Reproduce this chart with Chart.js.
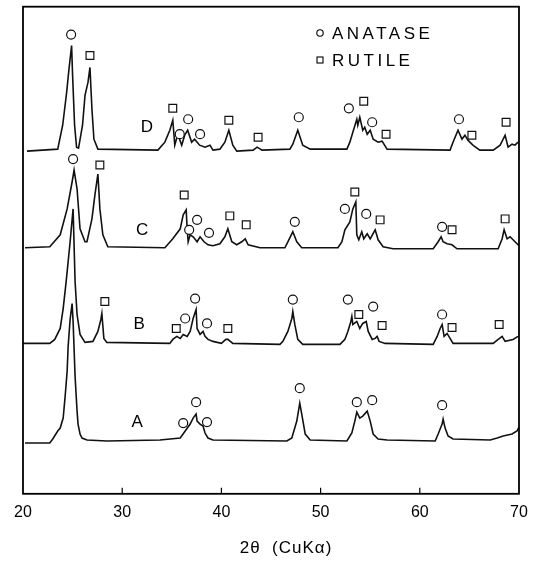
<!DOCTYPE html>
<html>
<head>
<meta charset="utf-8">
<script src="https://cdn.jsdelivr.net/npm/chart.js@4.4.1/dist/chart.umd.min.js"></script>
<style>
  html, body { margin: 0; padding: 0; background: #fff; }
  #wrap { width: 537px; height: 564px; }
</style>
</head>
<body>
<div id="wrap"><canvas id="xrd"></canvas></div>
<script>
// XRD patterns, stacked (2theta deg, offset intensity in arbitrary units)
const sampleNames = ["A", "B", "C", "D"];
const xTicks = [20, 30, 40, 50, 60, 70];
const xTitle = "2θ  (CuKα)";

const curveD = [
    [20.4, 344], [23.5, 346], [24.0, 370], [24.4, 403], [24.6, 423], [24.9, 450], [25.0, 420],
    [25.2, 370], [25.4, 348], [25.6, 347], [26.0, 370], [26.25, 400], [26.55, 413], [26.75, 428],
    [26.95, 386], [27.15, 356], [27.55, 346], [33.6, 345], [34.3, 353], [34.8, 365], [35.1, 375],
    [35.3, 350], [35.6, 361], [36.0, 350], [36.3, 360], [36.6, 365], [37.0, 353], [37.3, 356],
    [37.8, 350], [38.35, 348], [38.85, 350], [39.15, 345], [39.85, 346], [40.35, 353], [40.75, 365],
    [41.15, 350], [41.55, 344], [43.2, 345], [43.6, 348], [44.1, 345], [46.9, 346], [47.2, 351],
    [47.7, 365], [48.2, 350], [48.95, 346], [52.65, 346], [52.95, 353], [53.25, 363], [53.65, 376],
    [53.75, 370], [53.95, 378], [54.25, 365], [54.45, 368], [54.7, 361], [55.0, 365], [55.3, 356],
    [55.8, 353], [56.2, 354], [56.7, 346], [63.05, 345], [63.35, 353], [63.85, 365], [64.25, 356],
    [64.55, 360], [64.85, 355], [65.35, 350], [66.05, 345], [67.4, 345], [68.1, 350], [68.6, 360],
    [68.9, 348], [69.3, 351], [69.6, 350], [69.9, 353]
];
const curveC = [
    [20.2, 247], [22.7, 248], [23.75, 260], [24.45, 286], [24.95, 313], [25.15, 325], [25.45, 306],
    [25.75, 266], [26.25, 253], [26.45, 253], [26.95, 276], [27.25, 300], [27.55, 321], [27.75, 286],
    [28.05, 260], [28.55, 248], [34.3, 247], [35.1, 256], [35.85, 266], [36.15, 280], [36.45, 285],
    [36.55, 266], [36.65, 253], [36.85, 260], [37.15, 258], [37.55, 253], [37.85, 258], [38.25, 253],
    [38.65, 250], [39.15, 249], [39.85, 251], [40.35, 258], [40.65, 266], [41.05, 253], [41.55, 250],
    [42.05, 253], [42.4, 256], [42.7, 250], [43.9, 247], [46.4, 247], [46.7, 253], [47.2, 263],
    [47.6, 253], [48.1, 247], [51.75, 247], [52.15, 253], [52.45, 265], [52.95, 273], [53.25, 286],
    [53.55, 293], [53.65, 260], [53.85, 255], [54.15, 263], [54.35, 256], [54.7, 261], [55.0, 256],
    [55.5, 265], [55.8, 255], [56.3, 248], [57.3, 246], [61.35, 246], [61.85, 253], [62.15, 258],
    [62.35, 253], [62.75, 251], [63.25, 250], [63.75, 246], [67.9, 246], [68.3, 256], [68.5, 265],
    [68.8, 256], [69.1, 258], [69.4, 255], [69.8, 251], [70.0, 249]
];
const curveB = [
    [20.0, 151], [22.7, 151], [23.2, 155], [23.75, 166], [24.05, 186], [24.35, 213], [24.75, 253],
    [25.05, 286], [25.25, 213], [25.45, 180], [25.75, 160], [26.25, 152], [27.05, 153], [27.55, 163],
    [27.85, 175], [27.95, 181], [28.15, 156], [28.45, 152], [34.8, 151], [35.1, 155], [35.5, 158],
    [35.85, 156], [36.15, 160], [36.55, 158], [36.85, 163], [37.15, 176], [37.45, 185], [37.55, 166],
    [37.85, 160], [38.15, 163], [38.35, 158], [38.65, 155], [39.15, 153], [40.0, 151], [40.45, 155],
    [40.65, 155], [41.15, 151], [45.9, 150], [46.2, 153], [46.7, 163], [47.1, 176], [47.2, 183],
    [47.4, 170], [47.7, 155], [48.2, 150], [51.95, 150], [52.45, 155], [52.75, 163], [53.05, 173],
    [53.15, 178], [53.25, 170], [53.65, 173], [53.95, 166], [54.25, 171], [54.6, 173], [54.8, 163],
    [55.2, 155], [55.5, 156], [55.7, 158], [55.9, 153], [56.5, 151], [61.35, 150], [61.75, 158],
    [62.05, 166], [62.25, 170], [62.45, 158], [62.75, 161], [63.05, 156], [63.35, 151], [67.4, 151],
    [67.9, 155], [68.3, 158], [68.6, 153], [69.4, 155], [69.9, 158]
];
const curveA = [
    [20.2, 51], [22.7, 51], [23.0, 55], [23.5, 63], [23.75, 66], [24.05, 76], [24.25, 98],
    [24.45, 123], [24.55, 148], [24.75, 175], [24.95, 191], [25.05, 173], [25.25, 118], [25.45, 83],
    [25.55, 70], [25.75, 60], [25.95, 56], [26.45, 54], [28.45, 53], [33.8, 54], [35.85, 56],
    [36.35, 63], [36.85, 70], [37.15, 76], [37.45, 80], [37.55, 73], [37.85, 70], [38.15, 68],
    [38.35, 61], [38.65, 56], [39.15, 54], [46.6, 53], [47.1, 56], [47.6, 73], [47.9, 91],
    [48.1, 80], [48.45, 60], [48.95, 54], [52.65, 53], [53.15, 61], [53.45, 73], [53.65, 82],
    [53.95, 76], [54.25, 78], [54.7, 83], [55.0, 73], [55.3, 60], [55.8, 55], [56.7, 54],
    [61.55, 53], [61.85, 60], [62.25, 70], [62.35, 75], [62.55, 66], [62.85, 58], [63.35, 55],
    [67.1, 54], [67.8, 56], [68.4, 58], [69.3, 60], [69.8, 63], [70.0, 67]
];

// phase markers: anatase (circle) and rutile (square)
const anataseD = [[24.85, 461], [35.8, 361], [36.65, 376], [37.85, 361], [47.8, 378], [52.85, 387], [55.2, 373], [63.95, 376]];
const rutileD = [[26.75, 440], [35.1, 387], [40.75, 375], [43.7, 358], [54.35, 394], [56.6, 361], [65.25, 360], [68.7, 373]];
const anataseC = [[25.05, 336], [36.75, 265], [37.55, 275], [38.75, 262], [47.4, 273], [52.45, 286], [54.6, 281], [62.25, 268]];
const rutileC = [[27.75, 330], [36.25, 300], [40.85, 279], [42.5, 270], [53.45, 303], [56.0, 275], [63.25, 265], [68.6, 276]];
const anataseB = [[36.35, 176], [37.35, 196], [38.55, 171], [47.2, 195], [52.75, 195], [55.3, 188], [62.25, 180]];
const rutileB = [[28.25, 193], [35.45, 166], [40.65, 166], [53.85, 180], [56.2, 169], [63.25, 167], [68.0, 170]];
const anataseA = [[36.15, 71], [37.45, 92], [38.55, 72], [47.9, 106], [53.65, 92], [55.2, 94], [62.25, 89]];

const toXY = arr => arr.map(p => ({ x: p[0], y: p[1] }));

function lineSet(arr) {
    return {
        type: 'line',
        data: toXY(arr),
        borderColor: "#111",
        borderWidth: 1.6,
        pointRadius: 0,
        tension: 0,
        fill: false,
        order: 2
    };
}

// where the sample letters sit (2theta, intensity)
const letterSpots = [[31.5, 72], [31.7, 170], [32.0, 265], [32.5, 368]];

const decor = {
    id: 'decor',
    afterDatasetsDraw(chart) {
        const { ctx, chartArea: a, scales: { x, y } } = chart;
        ctx.save();
        ctx.strokeStyle = "#000";
        ctx.lineWidth = 1.8;
        ctx.strokeRect(a.left, a.top, a.right - a.left, a.bottom - a.top);
        // small inward ticks
        ctx.lineWidth = 1.2;
        ctx.beginPath();
        xTicks.slice(1, -1).forEach(v => {
            const px = x.getPixelForValue(v);
            ctx.moveTo(px, a.bottom);
            ctx.lineTo(px, a.bottom - 6);
        });
        ctx.stroke();

        ctx.fillStyle = "#000";
        ctx.font = '17px "Liberation Sans", Arial, sans-serif';
        ctx.textAlign = "center";
        ctx.textBaseline = "middle";
        sampleNames.forEach((n, i) => {
            ctx.fillText(n, x.getPixelForValue(letterSpots[i][0]), y.getPixelForValue(letterSpots[i][1]));
        });

        // axis title, sits a little right of centre in the original
        ctx.font = '17px "Liberation Sans", Arial, sans-serif';
        ctx.letterSpacing = "1px";
        ctx.fillText(xTitle, 286, 548);

        // legend box in upper right
        ctx.lineWidth = 1.1;
        ctx.beginPath();
        ctx.arc(320, 33, 3.2, 0, Math.PI * 2);
        ctx.stroke();
        ctx.strokeRect(317, 57, 6, 6);
        ctx.textAlign = "left";
        ctx.font = '17px "Liberation Sans", Arial, sans-serif';
        ctx.letterSpacing = "3.5px";
        ctx.fillText("ANATASE", 332, 34);
        ctx.fillText("RUTILE", 332, 61);
        ctx.restore();
    }
};

const markerStyle = {
    type: 'scatter',
    borderColor: "#111",
    backgroundColor: "#fff",
    borderWidth: 1.2,
    order: 0
};

new Chart(document.getElementById("xrd"), {
    data: {
        datasets: [
            Object.assign({ data: toXY([].concat(anataseA, anataseB, anataseC, anataseD)), pointStyle: 'circle', pointRadius: 4.5 }, markerStyle),
            Object.assign({ data: toXY([].concat(rutileB, rutileC, rutileD)), pointStyle: 'rect', pointRadius: 5.5 }, markerStyle),
            lineSet(curveA),
            lineSet(curveB),
            lineSet(curveC),
            lineSet(curveD)
        ]
    },
    options: {
        responsive: true,
        maintainAspectRatio: false,
        animation: false,
        layout: { padding: { left: 23, right: 18, top: 3, bottom: 33 } },
        plugins: {
            legend: { display: false },
            tooltip: { enabled: false }
        },
        scales: {
            x: {
                type: 'linear',
                min: 20,
                max: 70,
                grid: { display: false, drawTicks: false },
                border: { display: false },
                afterBuildTicks: scale => { scale.ticks = xTicks.map(v => ({ value: v })); },
                ticks: {
                    padding: 9,
                    color: "#000",
                    font: { family: '"Liberation Sans", Arial, sans-serif', size: 16 }
                }
            },
            y: {
                display: false,
                min: 0,
                max: 489
            }
        }
    },
    plugins: [decor]
});
</script>
</body>
</html>
